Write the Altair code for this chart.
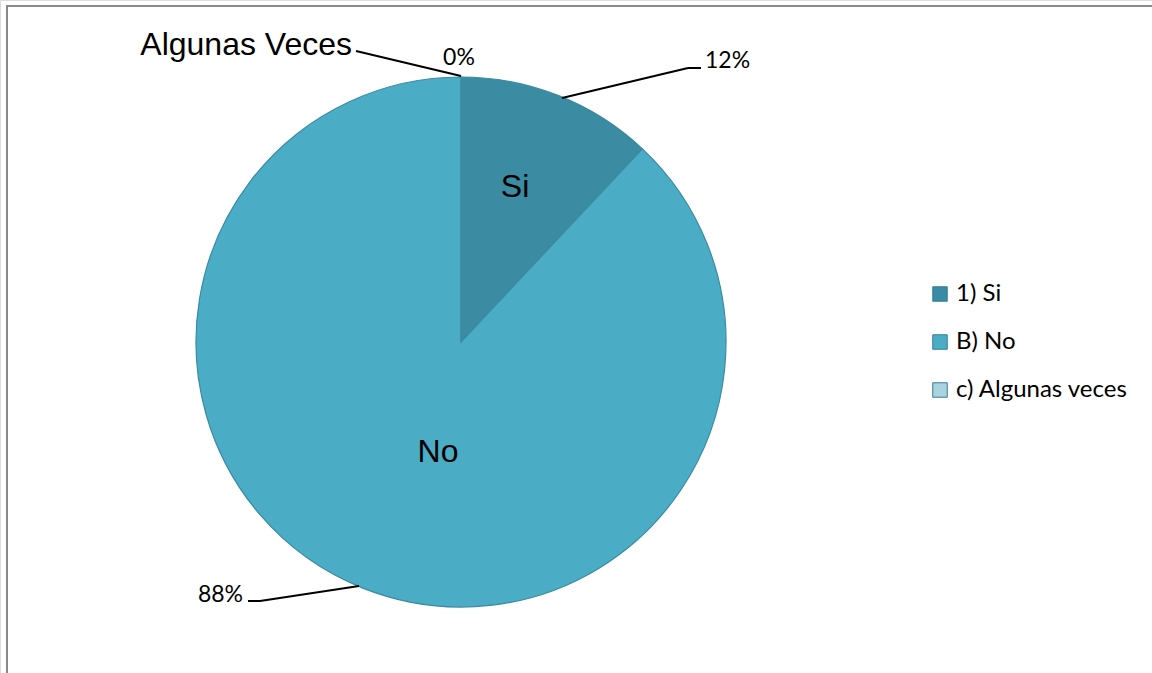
import altair as alt
import pandas as pd

# ---- data ----
categories = ["1) Si", "B) No", "c) Algunas veces"]
values = [12, 88, 0]
slice_labels = ["Si", "No", "Algunas Veces"]
pct_labels = ["12%", "88%", "0%"]

# ---- styles / layout ----
colors = ["#3B8BA3", "#4BACC6", "#A9D3DF"]
W, H = 1152, 673
CX, CY, R = 461, 342, 265

pie_df = pd.DataFrame({"cat": categories, "value": values, "idx": [0, 1, 2]})

pie = alt.Chart(pie_df).mark_arc(
    radius=R, stroke="#3A8AA2", strokeWidth=1.2
).encode(
    theta=alt.Theta("value:Q", stack=True),
    color=alt.Color(
        "cat:N",
        scale=alt.Scale(domain=categories, range=colors),
        sort=categories,
        legend=alt.Legend(
            title=None, orient="none", legendX=928, legendY=282,
            symbolType="square", symbolSize=210,
            symbolStrokeColor="#357F96", symbolStrokeWidth=1,
            labelFont="Lato", labelFontSize=24, labelColor="#000000",
            labelLimit=400, rowPadding=24, labelOffset=4,
        ),
    ),
    order=alt.Order("idx:Q"),
    x=alt.value(CX),
    y=alt.value(CY),
)

# inside labels (Arial-like)
in_df = pd.DataFrame({
    "t": [slice_labels[0], slice_labels[1]],
    "px": [515, 438],
    "py": [197, 462],
})
inside = alt.Chart(in_df).mark_text(
    font="Liberation Sans", fontSize=32, color="#000000",
    align="center", baseline="alphabetic"
).encode(
    x=alt.X("px:Q", scale=None), y=alt.Y("py:Q", scale=None), text="t:N"
)

# Algunas Veces outside label
alg_df = pd.DataFrame({"t": [slice_labels[2]], "px": [352], "py": [55]})
alg = alt.Chart(alg_df).mark_text(
    font="Liberation Sans", fontSize=32, color="#000000",
    align="right", baseline="alphabetic"
).encode(
    x=alt.X("px:Q", scale=None), y=alt.Y("py:Q", scale=None), text="t:N"
)

# percentage labels
pct_df = pd.DataFrame({
    "t": pct_labels,
    "px": [705, 243, 459],
    "py": [68, 602, 65],
    "al": ["left", "right", "center"],
})
pct_left = alt.Chart(pct_df[pct_df.al == "left"]).mark_text(
    font="Lato", fontSize=23, color="#000000", align="left", baseline="alphabetic"
).encode(x=alt.X("px:Q", scale=None), y=alt.Y("py:Q", scale=None), text="t:N")
pct_right = alt.Chart(pct_df[pct_df.al == "right"]).mark_text(
    font="Lato", fontSize=23, color="#000000", align="right", baseline="alphabetic"
).encode(x=alt.X("px:Q", scale=None), y=alt.Y("py:Q", scale=None), text="t:N")
pct_center = alt.Chart(pct_df[pct_df.al == "center"]).mark_text(
    font="Lato", fontSize=23, color="#000000", align="center", baseline="alphabetic"
).encode(x=alt.X("px:Q", scale=None), y=alt.Y("py:Q", scale=None), text="t:N")

# leader lines
seg_df = pd.DataFrame({
    "x1": [356, 562, 688, 248, 260],
    "y1": [51, 98, 68, 601, 601],
    "x2": [461, 688, 701, 260, 359],
    "y2": [76, 68, 68, 601, 586],
})
leaders = alt.Chart(seg_df).mark_rule(color="#000000", strokeWidth=2).encode(
    x=alt.X("x1:Q", scale=None), y=alt.Y("y1:Q", scale=None),
    x2="x2:Q", y2="y2:Q",
)

# outer frame
frame = alt.Chart(pd.DataFrame({"a": [0]})).mark_rect(
    fill=None, stroke="#898989", strokeWidth=2
).encode(
    x=alt.value(7), y=alt.value(6), x2=alt.value(W + 20), y2=alt.value(H + 20)
)

chart = alt.layer(
    frame, pie, leaders, inside, alg, pct_left, pct_right, pct_center
).properties(
    width=W, height=H, padding=0, autosize=alt.AutoSizeParams(type="none")
).configure_view(stroke=None).configure(background="#ffffff")

chart.save("out.html", embed_options={"renderer": "svg", "actions": False})
